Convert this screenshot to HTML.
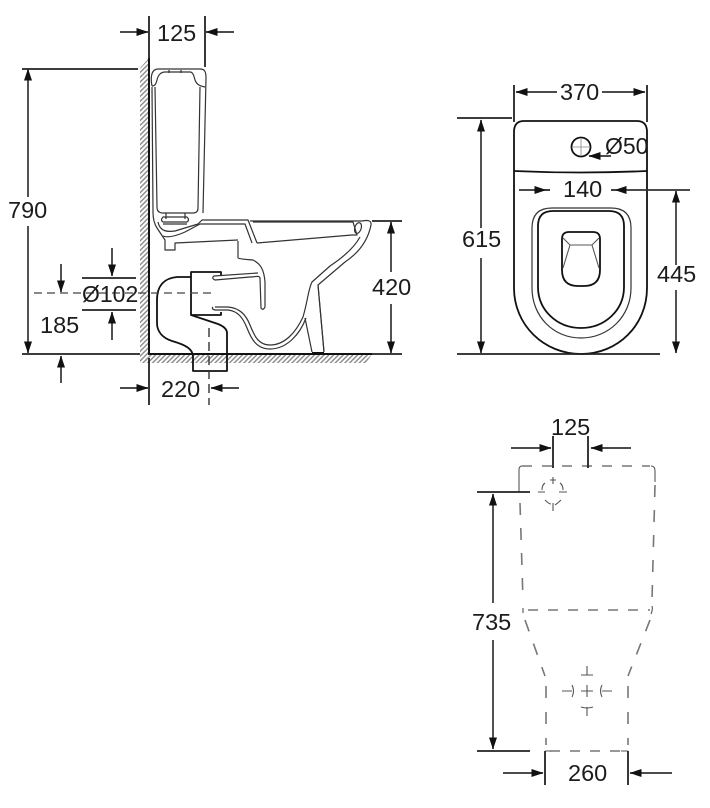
<!DOCTYPE html>
<html><head><meta charset="utf-8"><style>
html,body{margin:0;padding:0;background:#fff}
svg{display:block}
text{font-family:"Liberation Sans",sans-serif;font-size:23.5px;fill:#1c1c1c}
.d{stroke:#222;stroke-width:1.8;fill:none}
.a{stroke:#333;stroke-width:1.7;fill:none;marker-end:url(#m)}
.o{stroke:#333;stroke-width:1.2;fill:none;stroke-linejoin:round}
.k{stroke:#111;stroke-width:1.8;fill:none;stroke-linejoin:round}
.g{stroke:#777;stroke-width:1.6;fill:none;stroke-dasharray:10 10}
.c{stroke:#555;stroke-width:1.1;fill:none}
</style></head><body>
<svg width="710" height="808" viewBox="0 0 710 808" xmlns="http://www.w3.org/2000/svg">
<defs>
<marker id="m" markerUnits="userSpaceOnUse" markerWidth="12" markerHeight="9" refX="11.5" refY="4" orient="auto"><path d="M0,0L12,4L0,8Z" fill="#111"/></marker>
<pattern id="h" width="3.4" height="3.4" patternUnits="userSpaceOnUse" patternTransform="rotate(45)"><rect width="1.4" height="3.4" fill="#8a8a8a"/></pattern>
</defs>
<rect width="710" height="808" fill="#fff"/>

<!-- Side view hatch -->
<path d="M140,68L149,58V354H372L366,363H140Z" fill="url(#h)"/>
<path d="M149,58V354H372" stroke="#111" stroke-width="2" fill="none"/>
<path d="M372,354H402" class="d"/>

<!-- Cistern -->
<path class="o" d="M152,86C150,76 152,69 158,69H200C205,69 206,72 206,78L203,213"/>
<path class="o" d="M152,86C155,86 156,84 157,80C158,75 161,72 165,72H190C193,72 194,76 195,80C197,85 200,86 205,87"/>
<path class="o" d="M155,87L157,207Q157,213 163,213H193Q198,213 198,208L200,87"/>
<path class="o" d="M152,87L153,212Q153,222 157,228L165,240V250H175V243L238,240"/>
<path class="o" d="M166,213V219M185,213V219M169,70V73M181,70V73"/>
<path class="o" d="M163,217H187Q190,220 187,222H163Q160,220 163,217ZM163,224H187"/>
<path class="o" d="M158,222C160,232 168,232 175,231L198,224L202,220H248L257,243"/>
<path class="o" d="M163,236C168,238 176,236 185,232L200,224H245L252,243"/>

<!-- Bowl -->
<path class="o" d="M250,221L362,221Q372,219 371,225C368,240 360,252 345,262L318,285L324,352"/>
<path class="o" d="M253,222H353L357,235L352,235L257,243"/>
<ellipse class="o" cx="358" cy="228" rx="3.2" ry="5.5" transform="rotate(18 358 228)"/>
<path class="o" d="M360,237C354,248 342,258 330,266L312,282C308,290 308,300 303,317C296,332 285,345 270,345C258,345 254,335 250,325C246,315 240,308 228,307L215,307"/>
<path class="o" d="M306,318C300,334 287,349 270,349C256,349 251,338 247,328C243,318 238,311 228,310L215,310Q211,309 213,307"/>
<path class="o" d="M305,318L312,352M318,285L324,352"/>
<path d="M312,353H324" stroke="#111" stroke-width="2"/>
<path class="o" d="M238,241V258Q238,259 253,260C261,264 264,270 265,282L265,307Q263,311 261,308L260,278C259,275 256,277 250,277L215,280Q211,278 214,276L258,273"/>

<!-- Trap -->
<path class="k" d="M221,275V272H191V315H221V312"/>
<path class="k" d="M191,277H177C165,278 157,285 157,300V323C157,332 163,338 172,341C186,345 193,349 193,357V371H227V333C227,329 223,326 218,324L191,315"/>
<path d="M34,293H214" stroke="#444" stroke-width="1.3" stroke-dasharray="8 5" fill="none"/>
<path d="M209,328V405" stroke="#333" stroke-width="1.4" stroke-dasharray="9 5" fill="none"/>

<!-- Side view dimensions -->
<path class="d" d="M149,16V58M205,16V67M22,69H138M22,354H140M372,221H402M82,278H136M82,310H136M149,358V405"/>
<path class="a" d="M120,32H148"/><path class="a" d="M234,32H206"/>
<path class="a" d="M28,197V69"/><path class="a" d="M28,226V353"/>
<path class="a" d="M61,264V292"/><path class="a" d="M61,383V356"/>
<path class="a" d="M112,248V276"/><path class="a" d="M112,340V312"/>
<path class="a" d="M120,388H148"/><path class="a" d="M239,388H211"/>
<path class="a" d="M391,272V222"/><path class="a" d="M391,304V353"/>
<text x="157" y="41">125</text>
<text x="8" y="218">790</text>
<text x="82" y="302" style="font-size:23px">Ø102</text>
<text x="40" y="333">185</text>
<text x="161" y="397">220</text>
<text x="372" y="295">420</text>

<!-- Front view -->
<path class="k" stroke-width="1.3" d="M514,132Q514,121 524,121H637Q647,121 647,132V288C647,325 618,354 581,354C544,354 514,325 514,288Z"/>
<path class="k" stroke-width="1.3" d="M514,171Q581,174 647,171"/>
<circle class="k" stroke-width="1.3" cx="581" cy="147" r="9.5"/>
<path stroke="#888" stroke-width=".8" fill="none" d="M581,139V155M573,147H589"/>
<path class="o" d="M532,228Q532,208 552,208H611Q631,208 631,228V288C631,316 609,338 581,338C553,338 532,316 532,288Z"/>
<path class="k" stroke-width="1.4" d="M538,226Q538,211 553,211H609Q624,211 624,226V287C624,310 605,328 581,328C557,328 538,310 538,287Z"/>
<path class="k" stroke-width="1.4" d="M562,239Q562,232 569,232H593Q600,232 600,239V270Q600,286 584,286H578Q562,286 562,270Z"/>
<path class="c" d="M563,238L570,245H592L599,238M570,245L563,268M592,245L599,268"/>
<path class="d" d="M514,85V122M647,85V122M457,118H512M457,354H660"/>
<path class="a" d="M557,92H516"/><path class="a" d="M602,92H645"/>
<path class="a" d="M481,228V120"/><path class="a" d="M481,258V353"/>
<path class="a" d="M676,265V191"/><path class="a" d="M676,290V353"/>
<path class="a" d="M519,190H546"/><path class="a" d="M690,190H615"/>
<path class="d" d="M546,190H550M611,190H615"/>
<path class="a" stroke-width="1.2" d="M611,156H589"/>
<text x="560" y="100">370</text>
<text x="605" y="154" style="font-size:23px">Ø50</text>
<text x="563" y="197">140</text>
<text x="462" y="247">615</text>
<text x="657" y="282">445</text>

<!-- Plan view -->
<path class="g" d="M522,466H650"/>
<path class="g" d="M528,610H650"/>
<path class="g" d="M550,751H625"/>
<path class="g" style="stroke-dasharray:12 13" d="M520,503L523,600"/>
<path class="g" style="stroke-dasharray:12 13" d="M655,485L652,600"/>
<path class="g" style="stroke-dasharray:12 13" d="M525,620L545,676"/>
<path class="g" style="stroke-dasharray:12 13" d="M650,620L628,676"/>
<path class="g" style="stroke-dasharray:12 14" d="M546,686V745M628,686V745"/>
<path class="c" stroke="#777" d="M522,466Q519,466 519,470V492M651,466Q655,466 655,471V482M523,608V613M652,606Q653,610 651,614M545,751H551M621,751H628"/>
<path class="c" d="M553,477V484M550,480H556M538,492H545M559,492H567M542,490Q542,485 545,483M563,490Q563,485 560,483M545,500Q549,504 551,504M561,500Q558,503 555,505M553,503V511"/>
<path class="c" d="M587,666V675M581,675H593M587,685V697M581,691H593M562,691H572M572,685Q575,691 572,697M602,685Q599,691 602,697M602,691H612M581,707Q587,709 593,707M587,707V716"/>
<path class="d" d="M553,436V468M588,436V468M477,492H530M477,751H530M545,751V785M628,751V785"/>
<path class="a" d="M511,448H551"/><path class="a" d="M631,448H591"/>
<path class="a" d="M493,603V494"/><path class="a" d="M493,640V749"/>
<path class="a" d="M503,773H543"/><path class="a" d="M672,773H630"/>
<text x="551" y="435">125</text>
<text x="472" y="630">735</text>
<text x="568" y="781">260</text>
</svg>
</body></html>
